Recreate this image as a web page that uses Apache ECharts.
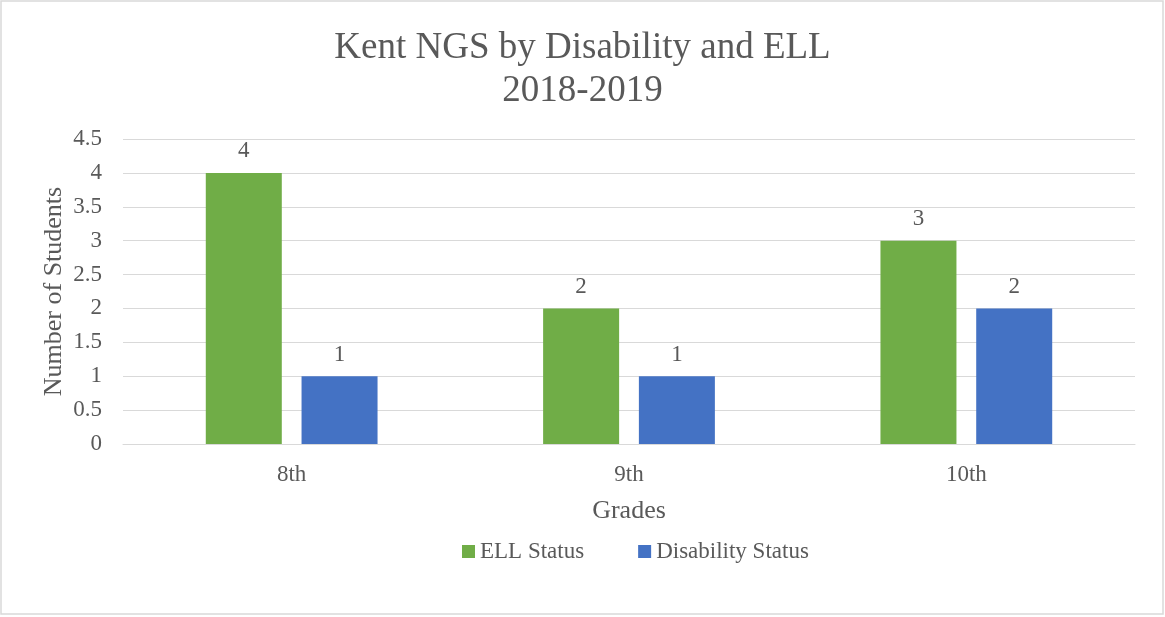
<!DOCTYPE html>
<html>
<head>
<meta charset="utf-8">
<script src="https://cdn.jsdelivr.net/npm/echarts@6/dist/echarts.min.js"></script>
<style>
  html, body { margin: 0; padding: 0; background: #fff; }
  #chart { width: 1165px; height: 617px; }
</style>
</head>
<body>
<div id="chart"></div>
<script>
// Grades and student counts per status
const grades = ['8th', '9th', '10th'];
const ellStatus = [4, 2, 3];
const disabilityStatus = [1, 1, 2];
const seriesNames = ['ELL Status', 'Disability Status'];

const textColor = '#595959';
const gridColor = '#D9D9D9';
const serif = '"Liberation Serif", "Times New Roman", serif';

const chart = echarts.init(document.getElementById('chart'));

const labelStyle = {
  show: true,
  position: 'top',
  distance: 10,
  color: textColor,
  fontFamily: serif,
  fontSize: 23
};

chart.setOption({
  backgroundColor: '#fff',
  graphic: [{
    type: 'rect',
    shape: { x: 1, y: 1, width: 1162, height: 613 },
    style: { fill: 'none', stroke: gridColor, lineWidth: 1.5 },
    silent: true
  }],
  title: {
    text: 'Kent NGS by Disability and ELL\n2018-2019',
    left: 'center',
    top: 22,
    textStyle: {
      color: textColor,
      fontFamily: serif,
      fontWeight: 'normal',
      fontSize: 37,
      lineHeight: 43
    }
  },
  legend: {
    data: seriesNames,
    top: 535,
    left: 457,
    icon: 'rect',
    itemWidth: 13,
    itemHeight: 13,
    itemGap: 54,
    textStyle: { color: textColor, fontFamily: serif, fontSize: 23 }
  },
  grid: { left: 123, right: 30, top: 139, bottom: 173 },
  xAxis: {
    type: 'category',
    data: grades,
    name: 'Grades',
    nameLocation: 'middle',
    nameGap: 54,
    nameTextStyle: { color: textColor, fontFamily: serif, fontSize: 26 },
    axisLine: { lineStyle: { color: gridColor, width: 1 } },
    axisTick: { show: false },
    axisLabel: { color: textColor, fontFamily: serif, fontSize: 23, margin: 19 }
  },
  yAxis: {
    type: 'value',
    min: 0,
    max: 4.5,
    interval: 0.5,
    name: 'Number of Students',
    nameLocation: 'middle',
    nameGap: 56,
    nameMoveOverlap: false,
    nameTextStyle: { color: textColor, fontFamily: serif, fontSize: 26 },
    axisLine: { show: false },
    axisTick: { show: false },
    axisLabel: { color: textColor, fontFamily: serif, fontSize: 23, margin: 21 },
    splitLine: { lineStyle: { color: gridColor, width: 1 } }
  },
  series: [
    {
      name: seriesNames[0],
      type: 'bar',
      data: ellStatus,
      barWidth: 76,
      barGap: '26%',
      itemStyle: { color: '#70AD47' },
      label: labelStyle
    },
    {
      name: seriesNames[1],
      type: 'bar',
      data: disabilityStatus,
      barWidth: 76,
      itemStyle: { color: '#4472C4' },
      label: labelStyle
    }
  ]
});
</script>
</body>
</html>
